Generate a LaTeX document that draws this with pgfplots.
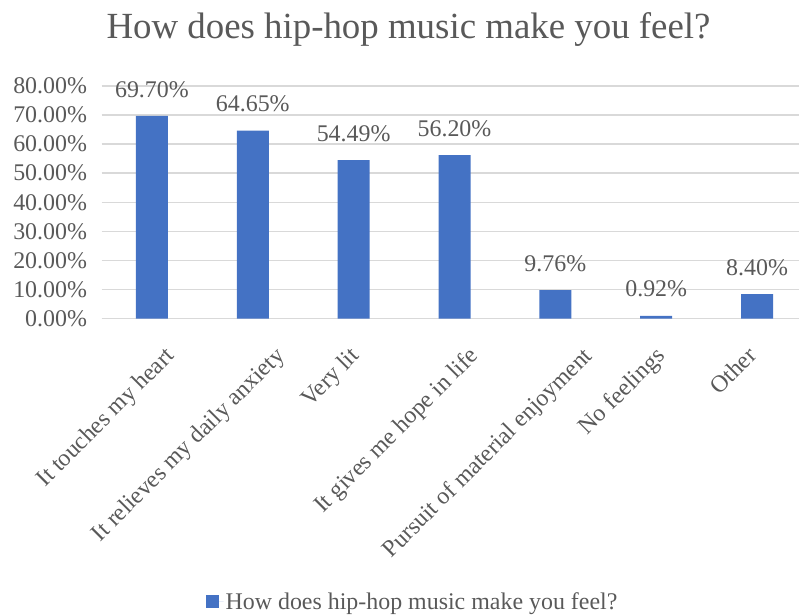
\documentclass[border=0pt]{standalone}
\usepackage{fontspec}
\setmainfont{Liberation Serif}
\usepackage{pgfplots}
\pgfplotsset{compat=1.18}
\definecolor{barblue}{HTML}{4472C4}
\definecolor{txtgray}{HTML}{595959}
\definecolor{gridgray}{HTML}{D9D9D9}
\begin{document}
\begin{tikzpicture}
\useasboundingbox (0,0) rectangle (799bp,616bp);
\node[anchor=base, text=txtgray, font=\fontsize{37}{42}\selectfont, inner sep=0pt] at (408.5bp,577bp) {How does hip-hop music make you feel?};
\begin{axis}[
  at={(101.5bp,297.5bp)}, anchor=south west,
  scale only axis, width=706bp, height=232.5bp,
  xmin=-0.5, xmax=6.5, ymin=0, ymax=80,
  ytick={0,10,...,80},
  xtick={0,1,2,3,4,5,6},
  xticklabels={It touches my heart, It relieves my daily anxiety, Very lit, It gives me hope in life, Pursuit of material enjoyment, No feelings, Other},
  axis x line*=bottom, axis y line*=left,
  y axis line style={draw=none},
  x axis line style={draw=gridgray, line width=1.4bp},
  major tick length=0pt,
  ymajorgrids, grid style={draw=gridgray, line width=1.4bp},
  /pgf/number format/assume math mode=true,
  yticklabel={\pgfmathprintnumber[fixed,fixed zerofill,precision=2]{\tick}\%},
  yticklabel style={font=\fontsize{24}{28}\selectfont, text=txtgray, anchor=east, xshift=-11bp},
  xticklabel style={font=\fontsize{24}{28}\selectfont, text=txtgray, yshift=-22bp, xshift={{12,21,-5,13,26,-2,-11}[\ticknum]}, rotate=45, anchor=north east},
  ybar, bar width=32bp,
  point meta=explicit symbolic,
  nodes near coords,
  nodes near coords style={font=\fontsize{24}{28}\selectfont, text=txtgray, anchor=south, yshift=15bp},
  legend style={at={(0.4405,-1.219)}, anchor=center, draw=none, fill=none, font=\fontsize{24}{28}\selectfont, text=txtgray},
  legend image code/.code={\fill[barblue] (0bp,-6.5bp) rectangle (13bp,6.5bp); \path (13bp,0) -- (18bp,0);},
  clip=false,
]
\addplot[fill=barblue, draw=none] coordinates {
  (0,69.70) [69.70\%]
  (1,64.65) [64.65\%]
  (2,54.49) [54.49\%]
  (3,56.20) [56.20\%]
  (4,9.76) [9.76\%]
  (5,0.92) [0.92\%]
  (6,8.40) [8.40\%]
};
\addlegendentry{How does hip-hop music make you feel?}
\end{axis}
\end{tikzpicture}
\end{document}
